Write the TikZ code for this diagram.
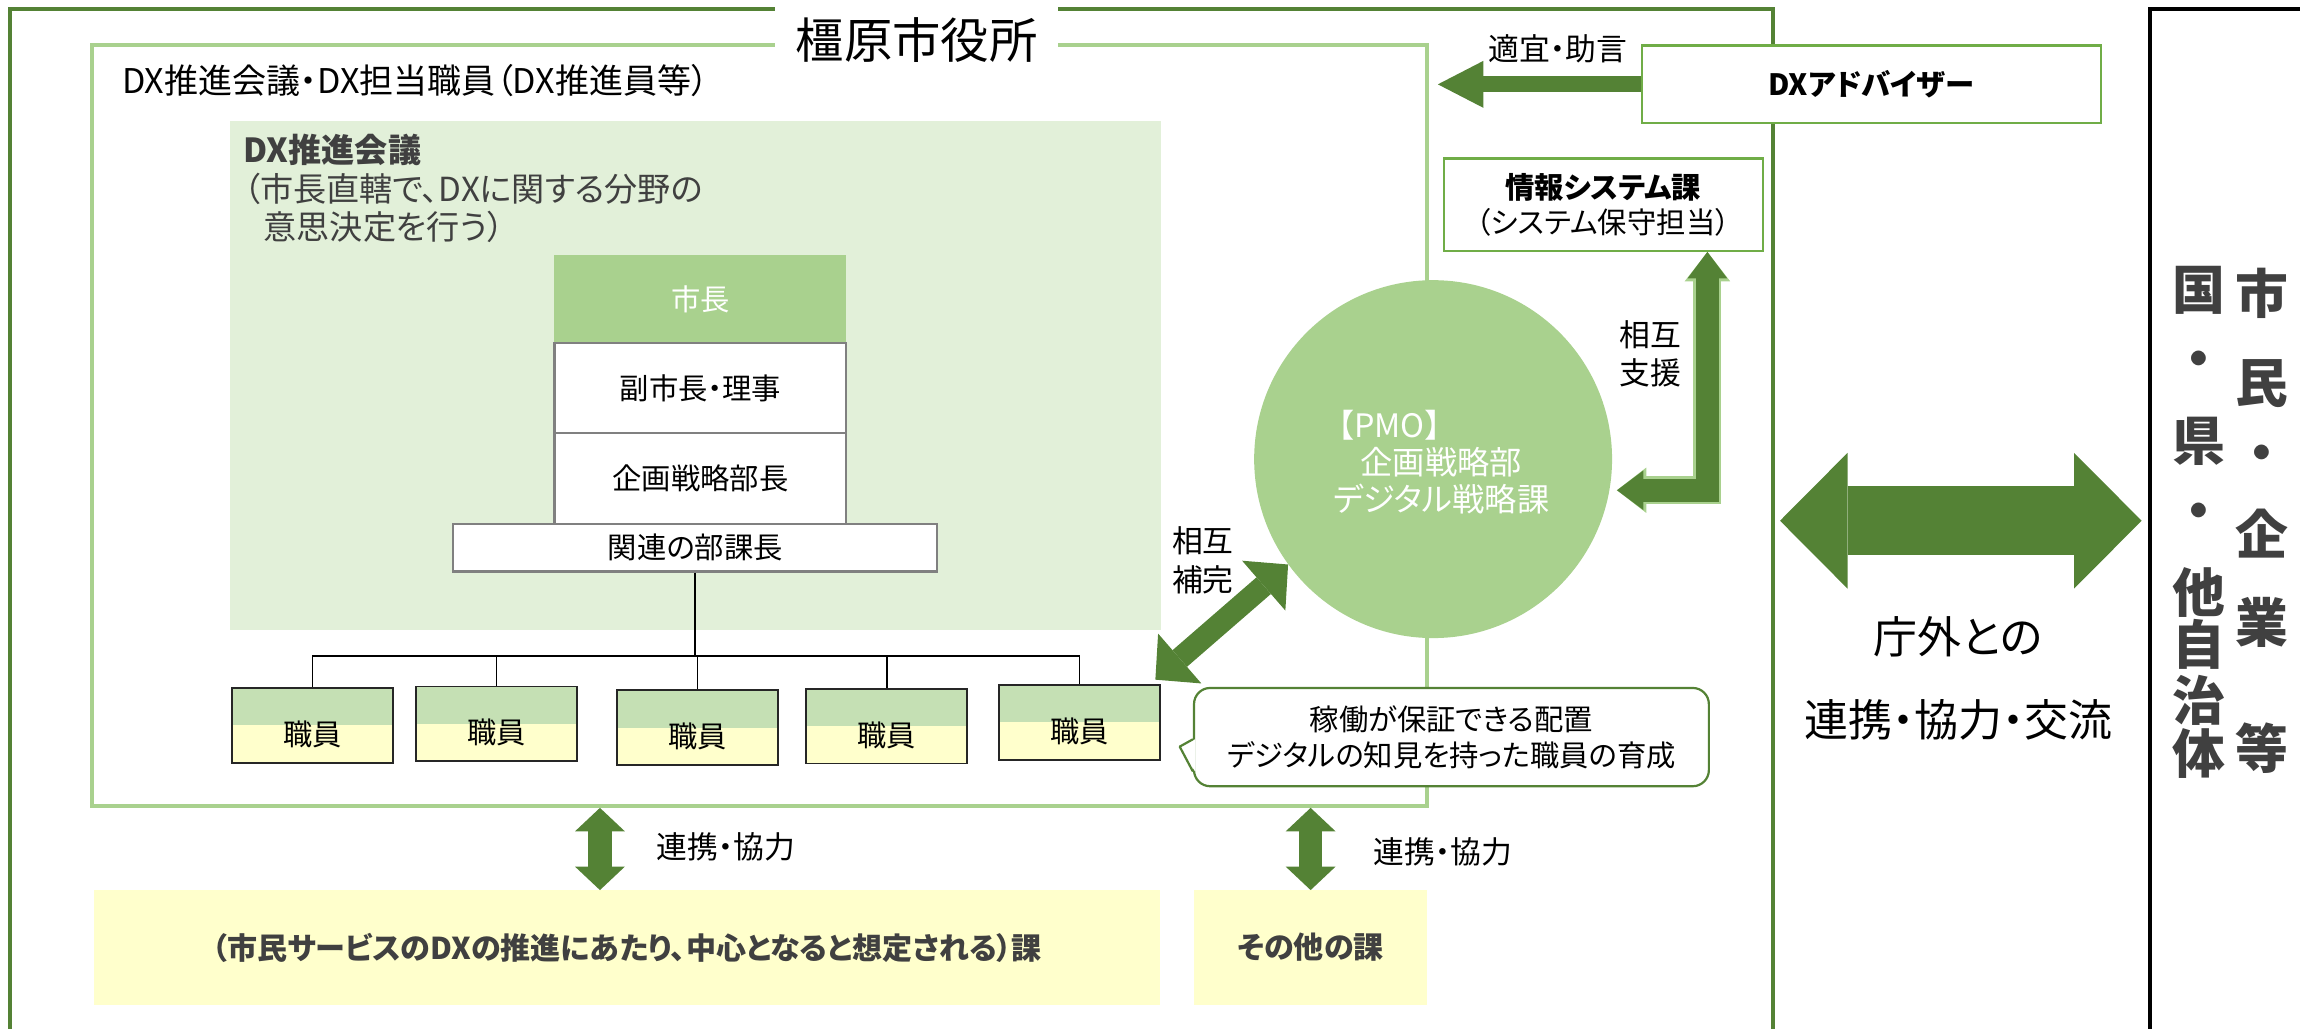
\documentclass[tikz,border=0pt]{standalone}
\usepackage{fontspec}
\setmainfont{Noto Sans CJK JP}[RawFeature=+palt]
\usetikzlibrary{arrows.meta}
\definecolor{dgreen}{HTML}{548235}
\definecolor{mgreen}{HTML}{70AD47}
\definecolor{lgreen}{HTML}{A9D18E}
\definecolor{pgreen}{HTML}{C5E0B4}
\definecolor{vlgreen}{HTML}{E2F0D9}
\definecolor{lyellow}{HTML}{FFFFCC}
\definecolor{dgray}{HTML}{404040}
\newcommand{\fs}[2]{\fontsize{#1}{#2}\selectfont}
\tikzstyle{frame}=[draw=lgreen, line width=2.5pt, inner sep=0]
\tikzstyle{kaigi}=[fill=vlgreen, inner sep=0]
\tikzstyle{post}=[draw=black!50, line width=1.5pt, fill=white, minimum width=199pt, inner sep=0, font=\fs{20}{24}]
\tikzstyle{staff}=[draw=black!85, line width=1.3pt, fill=lyellow, minimum width=110pt, minimum height=51pt, inner sep=0, font=\fs{20}{24},
                   % upper half of the box in green
                   path picture={\fill[pgreen] (path picture bounding box.north west) rectangle (path picture bounding box.east);}]
\tikzstyle{org}=[line width=1.2pt]
\tikzstyle{pmo}=[circle, fill=lgreen, inner sep=0, text=white, align=center, font=\fs{22}{25}]
\tikzstyle{infobox}=[draw=mgreen, line width=1.5pt, fill=white, inner sep=0, align=center, font=\fs{20}{24}]
\tikzstyle{bubble}=[draw=dgreen, line width=1.5pt, fill=white, rounded corners=11pt, inner sep=0, align=center, font=\fs{20}{24.5}]
\tikzstyle{yellowbox}=[fill=lyellow, inner sep=0, text=dgray, font=\bfseries\fs{20.5}{24}]
\tikzstyle{lbl}=[inner sep=0, font=\fs{21}{26}, align=left]
\tikzstyle{tate}=[inner sep=0, text=dgray, font=\bfseries\fs{36}{40}]
\tikzstyle{advice}=[draw=dgreen, line width=11pt, -{Triangle[length=31pt,width=32pt,line width=0pt]}]
\tikzstyle{renkei}=[draw=dgreen, line width=16pt, {Triangle[length=16pt,width=34pt,line width=0pt]}-{Triangle[length=16pt,width=34pt,line width=0pt]}]
\tikzstyle{hokan}=[draw=dgreen, line width=15pt, {Triangle[length=22pt,width=45pt,line width=0pt]}-{Triangle[length=22pt,width=45pt,line width=0pt]}]
\tikzstyle{shien}=[draw=dgreen, line width=16pt, line join=miter, {Triangle[length=18pt,width=27pt,line width=0pt]}-{Triangle[length=18pt,width=27pt,line width=0pt]},
                   preaction={draw=lgreen, line width=19pt, line join=miter, {Triangle[length=20pt,width=31pt,line width=0pt]}-{Triangle[length=20pt,width=31pt,line width=0pt]}}]
\tikzstyle{koryu}=[draw=dgreen, line width=47pt, {Triangle[length=46pt,width=92.5pt,line width=0pt]}-{Triangle[length=46pt,width=92.5pt,line width=0pt]}]

\begin{document}
\begin{tikzpicture}[x=1pt, y=-1pt]
    \useasboundingbox (0,0) rectangle (1568,701.5);
    % city hall and outside
    \draw[dgreen, line width=2.8pt] (7,701.5) -- (7,6) -- (1209,6) -- (1209,701.5);
    \draw[black, line width=2.8pt] (1466,701.5) -- (1466,6) -- (1572,6);

    \node[frame, minimum width=910.4pt, minimum height=519pt] (frame) at (517.8,290) {};
    \node[fill=white, minimum width=193pt, minimum height=50pt, inner sep=0, font=\fs{33}{36}] (title) at (625,27) {橿原市役所};
    \node[anchor=west, inner sep=0, font=\fs{23.2}{26}] (frametitle) at (83,55) {DX推進会議・DX担当職員（DX推進員等）};

    % DX推進会議
    \node[kaigi, minimum width=635pt, minimum height=347pt, anchor=north west] (kaigi) at (156.5,82) {};
    \node[anchor=north west, inner sep=0, align=left, text=dgray, font=\fs{22.6}{26.5}] (kaigitext) at (166,91)
        {\textbf{DX推進会議}\\（市長直轄で、DXに関する分野の\\\hspace*{0.6em}意思決定を行う）};
    \node[post, fill=lgreen, draw=none, text=white, minimum height=60.5pt] (mayor) at (477.5,203.75) {市長};
    \node[post, minimum height=61pt] (vice) at (477.5,264.5) {副市長・理事};
    \node[post, minimum height=62pt] (senryaku) at (477.5,326) {企画戦略部長};
    \node[post, minimum width=330pt, minimum height=32.6pt] (bucho) at (474,373.3) {関連の部課長};

    \coordinate (bus) at (474,447);
    \draw[org] (bucho.south) -- (bus);
    \foreach \i/\x/\y in {1/213/494.5, 2/338.5/493.5, 3/475.5/496, 4/604.5/495, 5/736/492.5} {
        \node[staff] (s\i) at (\x,\y) {\raisebox{-6pt}[\height][\depth]{職員}};
        \draw[org] (bus) -| (s\i.north);
    }

    % PMO
    \node[pmo, minimum size=244pt] (pmo) at (977,313) {\raisebox{-2pt}[\height][\depth]{\hspace*{-2.7em}【PMO】}\\\raisebox{-2pt}[\height][\depth]{\hspace*{0.5em}企画戦略部}\\\raisebox{-2pt}[\height][\depth]{\hspace*{0.5em}デジタル戦略課}};
    \node[infobox, minimum width=217.5pt, minimum height=63pt] (info) at (1093,139.5) {\textbf{情報システム課}\\（システム保守担当）};
    \node[infobox, minimum width=313pt, minimum height=53pt] (adv) at (1275.75,57.5) {\textbf{DXアドバイザー}};

    \node[bubble, minimum width=351pt, minimum height=67pt] (bubble) at (989.5,502.5) {稼働が保証できる配置\\デジタルの知見を持った職員の育成};
    \fill[white] ([shift={(1.5,1.5)}]bubble.west) -- ([shift={(-9,6.5)}]bubble.west) -- ([shift={(1.5,23.5)}]bubble.west) -- cycle;
    \draw[dgreen, line width=1.5pt, line join=round] ([shift={(0,1.5)}]bubble.west) -- ([shift={(-9,6.5)}]bubble.west) -- ([shift={(0,23.5)}]bubble.west);

    \coordinate (advtip) at ([shift={(6,0)}]frame.east |- adv.west);
    \draw[advice] (adv.west) -- (advtip);
    \node[lbl] (advlabel) at (1062,33) {適宜・助言};

    \coordinate (supL) at ([shift={(5,0)}]pmo.-10);
    \coordinate (supT) at ([shift={(71,0)}]info.south);
    \draw[shien] (supL) -| (supT);
    \node[lbl] (shienlabel) at (1125,241) {相互\\支援};

    \coordinate (hokanL) at ([shift={(-4,-3)}]s5.north east);
    \draw[hokan] (hokanL) -- (pmo.216);
    \node[lbl] (hokanlabel) at (820,382) {相互\\補完};

    % other sections
    \node[yellowbox, minimum width=727pt, minimum height=78pt] (kaA) at (427.5,646) {（市民サービスのDXの推進にあたり、中心となると想定される）課};
    \node[yellowbox, minimum width=159pt, minimum height=78pt] (kaB) at (893.5,646) {その他の課};
    \coordinate (rA) at ([shift={(-18.5,0)}]kaA.north);
    \draw[renkei] (rA) -- (rA |- frame.south);
    \draw[renkei] (kaB.north) -- (kaB.north |- frame.south);
    \node[lbl] (renkeiA) at (495,577) {連携・協力};
    \node[lbl] (renkeiB) at (983.5,581) {連携・協力};

    % outside the city hall
    \coordinate (extL) at (1213.5,355);
    \coordinate (extR) at (1460,355);
    \draw[koryu] (extL) -- (extR);
    \node[inner sep=0, font=\fs{30}{34}] (gaibu1) at (1335,434) {庁外との};
    \node[inner sep=0, font=\fs{30}{34}] (gaibu2) at (1335,491) {連携・協力・交流};
    \foreach \c/\y [count=\k] in {国/198, ・/249, 県/300.7, ・/352, 他/404, 自/439.5, 治/477.7, 体/513.6}
        \node[tate] (kuni\k) at (1499,\y) {\c};
    \foreach \c/\y [count=\k] in {市/200.3, 民/261.3, ・/312.7, 企/363.6, 業/424.4, 等/510}
        \node[tate] (shimin\k) at (1542,\y) {\c};
\end{tikzpicture}
\end{document}
